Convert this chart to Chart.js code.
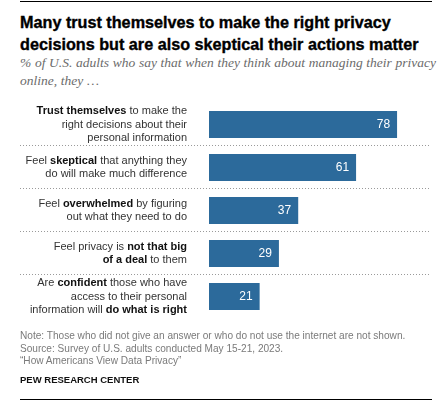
<!DOCTYPE html>
<html>
<head>
<meta charset="utf-8">
<script src="https://cdn.jsdelivr.net/npm/chart.js@4.4.0/dist/chart.umd.min.js"></script>
<style>
  html, body { margin: 0; padding: 0; background: #fff; }
  body { width: 446px; height: 406px; position: relative; overflow: hidden; }
  .rule { position: absolute; left: 20px; width: 412px; height: 1px; background: #000; }
  #title { position: absolute; left: 20px; top: 12px; font-family: "Liberation Sans", Arial, sans-serif; font-weight: bold; font-size: 16.2px; line-height: 21.5px; color: #000; white-space: nowrap; -webkit-text-stroke: 0.35px #000; }
  #subtitle { position: absolute; left: 20px; top: 54px; font-family: "Liberation Serif", serif; font-style: italic; font-size: 13.5px; word-spacing: 0.3px; line-height: 18px; color: #6b6b6b; white-space: nowrap; }
  #notes { position: absolute; left: 20px; top: 330px; font-family: "Liberation Sans", Arial, sans-serif; font-size: 10.1px; line-height: 12.5px; color: #7a7a7a; white-space: nowrap; }
  #brand { position: absolute; left: 20px; top: 374px; font-family: "Liberation Sans", Arial, sans-serif; font-weight: bold; font-size: 9.5px; color: #111; white-space: nowrap; }
  #wrap { position: absolute; left: 0; top: 0; width: 446px; height: 406px; }
</style>
</head>
<body>
<div class="rule" style="top:1px"></div>
<div id="title">Many trust themselves to make the right privacy<br>decisions but are also skeptical their actions matter</div>
<div id="subtitle">% of U.S. adults who say that when they think about managing their privacy<br>online, they …</div>
<div id="wrap"><canvas id="c" width="446" height="406"></canvas></div>
<div id="notes">Note: Those who did not give an answer or who do not use the internet are not shown.<br>Source: Survey of U.S. adults conducted May 15-21, 2023.<br>“How Americans View Data Privacy”</div>
<div id="brand">PEW RESEARCH CENTER</div>
<div class="rule" style="top:399px"></div>
<script>
// ---- data ----
const categories = ["Trust themselves", "Skeptical", "Overwhelmed", "Not that big of a deal", "Confident"];
const labelLines = [
  ["**Trust themselves** to make the", "right decisions about their", "personal information"],
  ["Feel **skeptical** that anything they", "do will make much difference"],
  ["Feel **overwhelmed** by figuring", "out what they need to do"],
  ["Feel privacy is **not that big**", "**of a deal** to them"],
  ["Are **confident** those who have", "access to their personal", "information will **do what is right**"]
];
const values = [78, 61, 37, 29, 21];

const FONT = '"Liberation Sans", Arial, sans-serif';
const LABEL_SIZE = 11;
const LINE_H = 13.5;

const decor = {
  id: 'decor',
  afterDatasetsDraw(chart) {
    const ctx = chart.ctx;
    const y = chart.scales.y;
    const x = chart.scales.x;
    const n = categories.length;
    const step = n > 1 ? y.getPixelForValue(1) - y.getPixelForValue(0) : 40;
    ctx.save();
    // separators
    ctx.strokeStyle = '#9a9a9a';
    ctx.lineWidth = 1;
    ctx.setLineDash([1, 2]);
    for (let i = 0; i < n - 1; i++) {
      const py = Math.round(y.getPixelForValue(i) + step / 2) - 0.5;
      ctx.beginPath();
      ctx.moveTo(20, py);
      ctx.lineTo(431, py);
      ctx.stroke();
    }
    ctx.setLineDash([]);
    // category labels
    ctx.textBaseline = 'middle';
    const rightX = 187;
    labelLines.forEach((lines, i) => {
      const cy = y.getPixelForValue(i);
      const y0 = cy - (lines.length - 1) * LINE_H / 2;
      lines.forEach((line, j) => {
        const parts = line.split('**');
        let total = 0;
        const segs = parts.map((p, k) => {
          ctx.font = (k % 2 ? 'bold ' : '') + LABEL_SIZE + 'px ' + FONT;
          const w = ctx.measureText(p).width;
          total += w;
          return { t: p, b: k % 2 === 1, w };
        });
        let px = rightX - total;
        segs.forEach(s => {
          ctx.font = (s.b ? 'bold ' : '') + LABEL_SIZE + 'px ' + FONT;
          ctx.fillStyle = s.b ? '#111' : '#333';
          ctx.textAlign = 'left';
          ctx.fillText(s.t, px, y0 + j * LINE_H);
          px += s.w;
        });
      });
    });
    // value labels
    ctx.font = '12px ' + FONT;
    ctx.fillStyle = '#fff';
    ctx.textAlign = 'right';
    values.forEach((v, i) => {
      ctx.fillText(String(v), x.getPixelForValue(v) - 7, y.getPixelForValue(i) + 0.5);
    });
    ctx.restore();
  }
};

new Chart(document.getElementById('c'), {
  type: 'bar',
  data: {
    labels: categories,
    datasets: [{
      data: values,
      backgroundColor: '#2c6a9b',
      borderWidth: 0,
      barPercentage: 0.63,
      categoryPercentage: 1
    }]
  },
  options: {
    indexAxis: 'y',
    responsive: false,
    animation: false,
    layout: { padding: { left: 209, right: 20, top: 103, bottom: 88 } },
    plugins: { legend: { display: false }, tooltip: { enabled: false } },
    scales: {
      x: { display: false, min: 0, max: 90 },
      y: { display: false }
    }
  },
  plugins: [decor]
});
</script>
</body>
</html>
